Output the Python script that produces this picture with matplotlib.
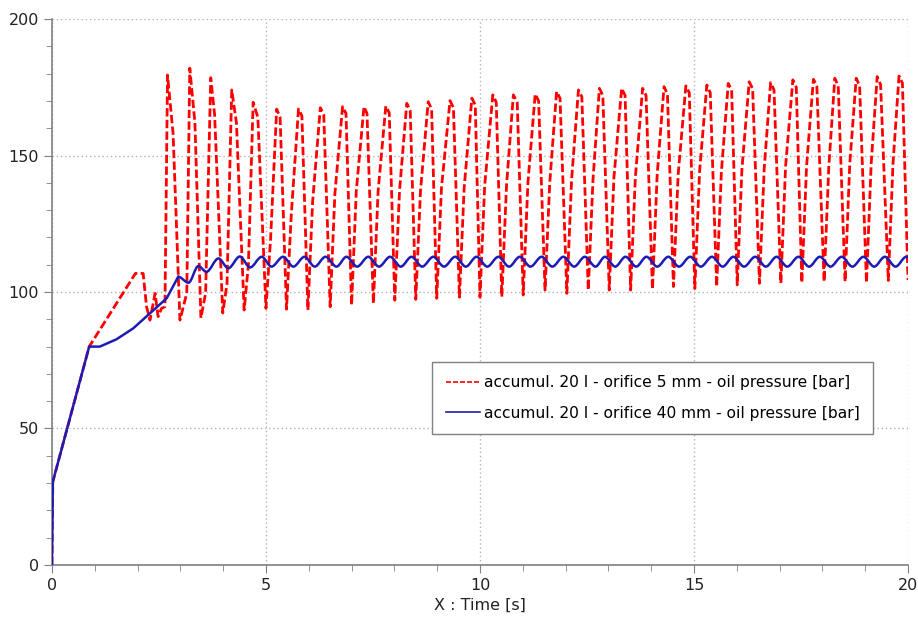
import matplotlib
matplotlib.use("Agg")
import matplotlib.pyplot as plt
from matplotlib.ticker import MultipleLocator
from matplotlib.path import Path
from matplotlib.patches import PathPatch

# orifice 5 mm : start-up ramp, then knee / top / top end / trough per pressure cycle
red_start_t = [0.0, 0.02, 0.87, 1.95, 2.13, 2.21, 2.29, 2.41, 2.48, 2.56, 2.64]
red_start_v = [0.0, 30.5, 80.0, 106.8, 106.8, 94.6, 89.7, 99.5, 91.0, 94.0, 94.6]

red_peak_t = [2.70, 3.22, 3.71, 4.20, 4.70, 5.25, 5.76, 6.27, 6.79, 7.29, 7.80, 8.29,
              8.79, 9.30, 9.81, 10.30, 10.78, 11.29, 11.79, 12.30, 12.79, 13.31, 13.80,
              14.30, 14.81, 15.30, 15.80, 16.29, 16.79, 17.31, 17.79, 18.29, 18.79,
              19.28, 19.79]
red_peak_v = [179.5, 182.0, 178.5, 174.0, 169.5, 167.0, 167.0, 167.5, 167.9, 167.9, 168.1,
              169.1, 169.7, 170.1, 171.0, 172.2, 172.2, 172.5, 173.4, 174.0, 174.6, 174.6,
              174.6, 175.2, 175.5, 175.8, 176.4, 177.0, 176.7, 177.7, 177.9, 178.3, 178.3,
              178.9, 179.1]
red_topend_t = [2.83, 3.34, 3.80, 4.31, 4.81, 5.33, 5.84, 6.35, 6.87, 7.36, 7.88, 8.37,
                8.87, 9.38, 9.89, 10.38, 10.87, 11.37, 11.87, 12.38, 12.87, 13.39, 13.88,
                14.38, 14.89, 15.38, 15.88, 16.37, 16.87, 17.39, 17.87, 18.37, 18.87,
                19.36, 19.87]
red_topend_v = [158.0, 162.0, 165.0, 162.0, 164.0, 164.0, 164.5, 165.0, 165.4, 165.4,
                165.6, 166.5, 167.0, 167.5, 168.5, 169.5, 169.5, 170.0, 171.0, 171.5,
                172.0, 172.0, 172.0, 172.5, 173.0, 173.0, 174.0, 174.5, 174.0, 175.0,
                175.5, 175.5, 175.5, 176.0, 176.5]
red_trough_t = [2.99, 3.48, 3.99, 4.49, 5.00, 5.48, 5.98, 6.50, 7.00, 7.51, 8.01, 8.50,
                8.99, 9.52, 10.00, 10.51, 11.01, 11.52, 12.03, 12.53, 13.02, 13.52, 14.03,
                14.52, 15.02, 15.53, 16.01, 16.53, 17.03, 17.52, 18.04, 18.53, 19.03,
                19.54, 20.00]
red_trough_v = [89.7, 90.5, 92.3, 93.4, 94.0, 93.7, 93.4, 94.6, 95.2, 95.8, 97.0, 97.3,
                97.7, 98.1, 98.1, 98.3, 98.9, 100.7, 99.5, 100.7, 100.7, 100.7, 101.0,
                102.0, 101.3, 102.0, 102.6, 103.2, 103.2, 103.4, 103.8, 103.8, 103.4,
                104.2, 104.4]
# knee on the rising edge after each trough (before the next top)
red_knee_t = [3.15, 3.59, 4.09, 4.59, 5.11, 5.59, 6.09, 6.61, 7.11, 7.62, 8.12, 8.61,
              9.10, 9.63, 10.11, 10.62, 11.12, 11.63, 12.14, 12.64, 13.13, 13.63, 14.14,
              14.63, 15.13, 15.64, 16.12, 16.64, 17.14, 17.63, 18.15, 18.64, 19.14, 19.65]
red_knee_v = [99.6, 99.6, 103.0, 110.0, 120.0, 128.0, 133.0, 136.0, 137.0, 137.0, 137.0,
              137.0, 138.0, 138.0, 139.0, 139.0, 140.0, 140.0, 141.0, 141.0, 142.0, 142.0,
              143.0, 143.0, 144.0, 144.0, 145.0, 145.0, 146.0, 146.0, 146.0, 147.0, 147.0,
              147.0]

# orifice 40 mm : ramp, then small oscillation (peaks / troughs)
blue_start_t = [0.0, 0.02, 0.87, 1.12, 1.51, 1.90, 2.29, 2.68, 2.95]
blue_start_v = [0.0, 30.5, 80.0, 80.0, 82.7, 86.7, 92.2, 97.7, 105.6]
blue_osc_t = [2.95, 3.19, 3.42, 3.61]
blue_osc_v = [105.6, 103.4, 109.5, 107.4]

blue_peak_t = [3.89, 4.39, 4.90, 5.40, 5.90, 6.39, 6.88, 7.39, 7.90, 8.40, 8.91, 9.42,
               9.92, 10.43, 10.93, 11.44, 11.95, 12.45, 12.92, 13.40, 13.89, 14.40, 14.91,
               15.42, 15.92, 16.43, 16.93, 17.44, 17.94, 18.45, 18.96, 19.46, 19.96]
blue_peak_v = [112.3, 113.0, 112.9, 112.9, 112.9, 112.9, 112.9, 112.9, 112.9, 112.9,
               112.9, 112.9, 112.9, 112.9, 112.9, 112.9, 112.9, 112.9, 112.9, 112.9,
               112.9, 112.9, 112.9, 112.9, 112.9, 112.9, 112.9, 112.9, 112.9, 112.9,
               112.9, 112.9, 112.9]
blue_trough_t = [4.12, 4.63, 5.13, 5.64, 6.14, 6.65, 7.13, 7.64, 8.15, 8.65, 9.16, 9.67,
                 10.17, 10.68, 11.18, 11.69, 12.20, 12.70, 13.16, 13.65, 14.14, 14.65,
                 15.16, 15.67, 16.17, 16.68, 17.18, 17.69, 18.19, 18.70, 19.21, 19.71]
blue_trough_v = [108.7, 109.0, 109.3, 109.3, 109.3, 109.3, 109.3, 109.3, 109.3, 109.3,
                 109.3, 109.3, 109.3, 109.3, 109.3, 109.3, 109.3, 109.3, 109.3, 109.3,
                 109.3, 109.3, 109.3, 109.3, 109.3, 109.3, 109.3, 109.3, 109.3, 109.3,
                 109.3, 109.3]
blue_end_t = [20.0]
blue_end_v = [112.6]

labels = ["accumul. 20 l - orifice 5 mm - oil pressure [bar]",
          "accumul. 20 l - orifice 40 mm - oil pressure [bar]"]

RED = "#ff0000"
BLUE = "#1c1cb4"

# red trace: start, then (knee) -> top -> top end -> trough for every cycle
red_t, red_v = list(red_start_t), list(red_start_v)
for i in range(len(red_peak_t)):
    if i > 0:
        red_t.append(red_knee_t[i - 1])
        red_v.append(red_knee_v[i - 1])
    red_t += [red_peak_t[i], red_topend_t[i], red_trough_t[i]]
    red_v += [red_peak_v[i], red_topend_v[i], red_trough_v[i]]

# blue oscillating part: alternate peaks and troughs
osc_t, osc_v = list(blue_osc_t), list(blue_osc_v)
for i in range(len(blue_peak_t)):
    osc_t.append(blue_peak_t[i])
    osc_v.append(blue_peak_v[i])
    if i < len(blue_trough_t):
        osc_t.append(blue_trough_t[i])
        osc_v.append(blue_trough_v[i])
osc_t += blue_end_t
osc_v += blue_end_v

plt.rcParams["font.family"] = "DejaVu Sans"
fig = plt.figure(figsize=(9.18, 6.23), dpi=100)
ax = fig.add_axes([0.0566, 0.0931, 0.9325, 0.8764])

ax.plot(red_t, red_v, color=RED, lw=2.0, dashes=(3, 1.2), label=labels[0], zorder=3)
ax.plot(blue_start_t, blue_start_v, color=BLUE, lw=1.8, label=labels[1], zorder=4)

# smooth the small blue swing with cubic segments (flat at each extreme)
verts = [(osc_t[0], osc_v[0])]
codes = [Path.MOVETO]
for i in range(1, len(osc_t)):
    t0, v0 = osc_t[i - 1], osc_v[i - 1]
    t1, v1 = osc_t[i], osc_v[i]
    dt = t1 - t0
    verts += [(t0 + dt / 3, v0), (t1 - dt / 3, v1), (t1, v1)]
    codes += [Path.CURVE4] * 3
ax.add_patch(PathPatch(Path(verts, codes), fill=False, edgecolor=BLUE, lw=1.8, zorder=4))

ax.set_xlim(0, 20)
ax.set_ylim(0, 200)
ax.xaxis.set_major_locator(MultipleLocator(5))
ax.xaxis.set_minor_locator(MultipleLocator(1))
ax.yaxis.set_major_locator(MultipleLocator(50))
ax.yaxis.set_minor_locator(MultipleLocator(10))

ax.grid(which="major", linestyle=(0, (1, 2)), color="#b4b4b4", lw=1)
for side in ["top", "right"]:
    ax.spines[side].set_visible(False)
for side in ["left", "bottom"]:
    ax.spines[side].set_color("#808080")
    ax.spines[side].set_linewidth(1.2)
ax.tick_params(which="major", length=6, color="#808080", labelsize=11.5, labelcolor="#222222")
ax.tick_params(which="minor", length=4, color="#808080")
ax.set_xlabel("X : Time [s]", fontsize=11.5, color="#222222", labelpad=3)

leg = ax.legend(loc="upper left", bbox_to_anchor=(0.4445, 0.372), fontsize=11.2,
                fancybox=False, edgecolor="#808080", framealpha=1,
                handlelength=2.2, handletextpad=0.25, borderpad=0.85, borderaxespad=0,
                labelspacing=1.0)
leg.get_frame().set_linewidth(1.0)
for line in leg.get_lines():
    line.set_linewidth(1.2)

fig.savefig("out.png", dpi=100)
